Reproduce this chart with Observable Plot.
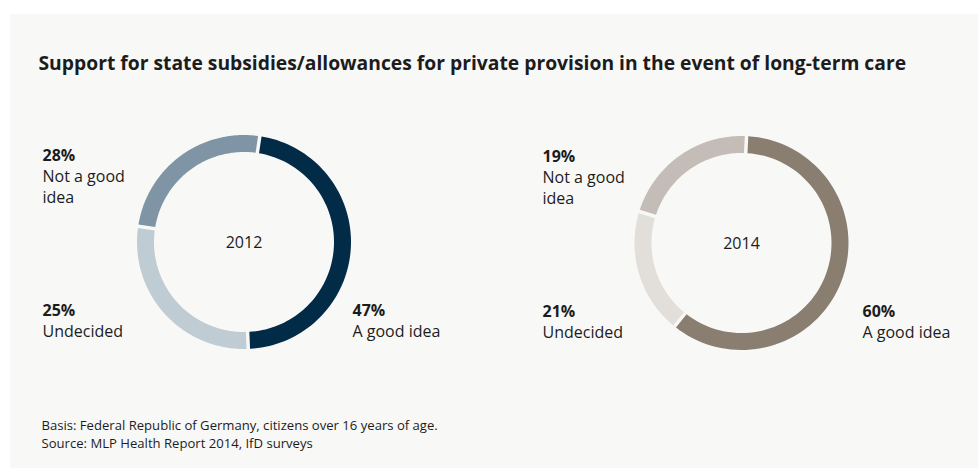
<!DOCTYPE html>
<html>
<head>
<meta charset="utf-8">
<script src="https://cdn.jsdelivr.net/npm/d3@7"></script>
<script src="https://cdn.jsdelivr.net/npm/@observablehq/plot@0.6"></script>
<style>
  html, body { margin: 0; padding: 0; background: #ffffff; }
  #wrap { position: relative; width: 978px; height: 468px; background: #ffffff; overflow: hidden; }
  #panel { position: absolute; left: 10px; top: 14px; right: 0; bottom: 0; background: #f8f8f7; }
  #chart { position: absolute; left: 0; top: 0; }
</style>
</head>
<body>
<div id="wrap"><div id="panel"></div><div id="chart"></div></div>
<script>
// ---- Data ----
const titleText = "Support for state subsidies/allowances for private provision in the event of long-term care";
const footnotes = [
  "Basis: Federal Republic of Germany, citizens over 16 years of age.",
  "Source: MLP Health Report 2014, IfD surveys"
];
const years = ["2012", "2014"];
// slices in clockwise drawing order
const categories = ["A good idea", "Not a good idea", "Undecided"];
const values2012 = [47, 28, 25];
const values2014 = [60, 19, 21];
const colors2012 = ["#022b48", "#c0ccd3", "#7f95a5"];
const colors2014 = ["#8a7e71", "#e2dfdb", "#c4bcb6"];

// ---- Layout (not data) ----
const W = 978, H = 468;
const layout = {
  "2012": {cx: 243.5, cy: 241.5, rot: 8.5, left: -201.5, right: 108.5},
  "2014": {cx: 741, cy: 242.5, rot: 2.7, left: -199, right: 121}
};
const R_OUT = 107, R_IN = 90, GAP = 3.5, STEPS = 80;
const textColor = "#1c1c1c";
const font = "'Open Sans', 'Noto Sans', sans-serif";

const valuesByYear = {"2012": values2012, "2014": values2014};
const colorsByYear = {"2012": colors2012, "2014": colors2014};

// ---- Build slice polygons from the values ----
const rad = Math.PI / 180;
const polyPoints = [];
for (const year of years) {
  const L = layout[year];
  const vals = valuesByYear[year];
  const total = d3.sum(vals);
  let start = L.rot;
  vals.forEach((v, i) => {
    const span = v / total * 360;
    const a0 = start, a1 = start + span;
    start = a1;
    const key = year + " " + categories[i];
    const po = Math.asin(GAP / 2 / R_OUT) / rad;
    const pi = Math.asin(GAP / 2 / R_IN) / rad;
    const pts = [];
    for (let s = 0; s <= STEPS; s++) {
      const a = (a0 + po) + (a1 - a0 - 2 * po) * s / STEPS;
      pts.push({a, r: R_OUT});
    }
    for (let s = STEPS; s >= 0; s--) {
      const a = (a0 + pi) + (a1 - a0 - 2 * pi) * s / STEPS;
      pts.push({a, r: R_IN});
    }
    pts.forEach(p => polyPoints.push({
      key,
      x: L.cx + p.r * Math.sin(p.a * rad),
      y: L.cy - p.r * Math.cos(p.a * rad)
    }));
  });
}

const colorDomain = [], colorRange = [];
for (const year of years) {
  categories.forEach((c, i) => { colorDomain.push(year + " " + c); colorRange.push(colorsByYear[year][i]); });
}

// ---- Labels ----
const pctLabels = [], nameLabels = [];
for (const year of years) {
  const L = layout[year];
  const vals = valuesByYear[year];
  pctLabels.push({x: L.cx + L.left, y: L.cy - 81.5, t: vals[1] + "%"});
  nameLabels.push({x: L.cx + L.left, y: L.cy - 39.5, t: "Not a good\nidea"});
  pctLabels.push({x: L.cx + L.left, y: L.cy + 73.5, t: vals[2] + "%"});
  nameLabels.push({x: L.cx + L.left, y: L.cy + 94.5, t: categories[2]});
  pctLabels.push({x: L.cx + L.right, y: L.cy + 73.5, t: vals[0] + "%"});
  nameLabels.push({x: L.cx + L.right, y: L.cy + 94.5, t: categories[0]});
}
const yearLabels = years.map(y => ({x: layout[y].cx, y: layout[y].cy + 1, t: y}));

const chart = Plot.plot({
  width: W, height: H,
  margin: 0,
  x: {domain: [0, W], range: [0, W], axis: null},
  y: {domain: [0, H], range: [0, H], axis: null},
  color: {domain: colorDomain, range: colorRange},
  style: {background: "transparent", fontFamily: font, color: textColor},
  marks: [
    Plot.line(polyPoints, {x: "x", y: "y", z: "key", fill: "key", stroke: null, curve: "linear-closed"}),
    Plot.text([titleText], {x: () => 38, y: () => 69, text: d => d, textAnchor: "start", lineAnchor: "bottom", fontSize: 19.3, fontWeight: 700, fill: textColor}),
    Plot.text(pctLabels, {x: "x", y: "y", text: "t", textAnchor: "start", lineAnchor: "bottom", fontSize: 16, fontWeight: 700, fill: textColor}),
    Plot.text(nameLabels, {x: "x", y: "y", text: "t", textAnchor: "start", lineAnchor: "bottom", fontSize: 16, lineHeight: 1.31, fill: textColor}),
    Plot.text(yearLabels, {x: "x", y: "y", text: "t", textAnchor: "middle", lineAnchor: "middle", fontSize: 16, fill: textColor}),
    Plot.text(footnotes, {x: () => 41, y: (d, i) => 429 + i * 18, text: d => d, textAnchor: "start", lineAnchor: "bottom", fontSize: 13.1, fill: textColor})
  ]
});
document.getElementById("chart").appendChild(chart);
</script>
</body>
</html>
